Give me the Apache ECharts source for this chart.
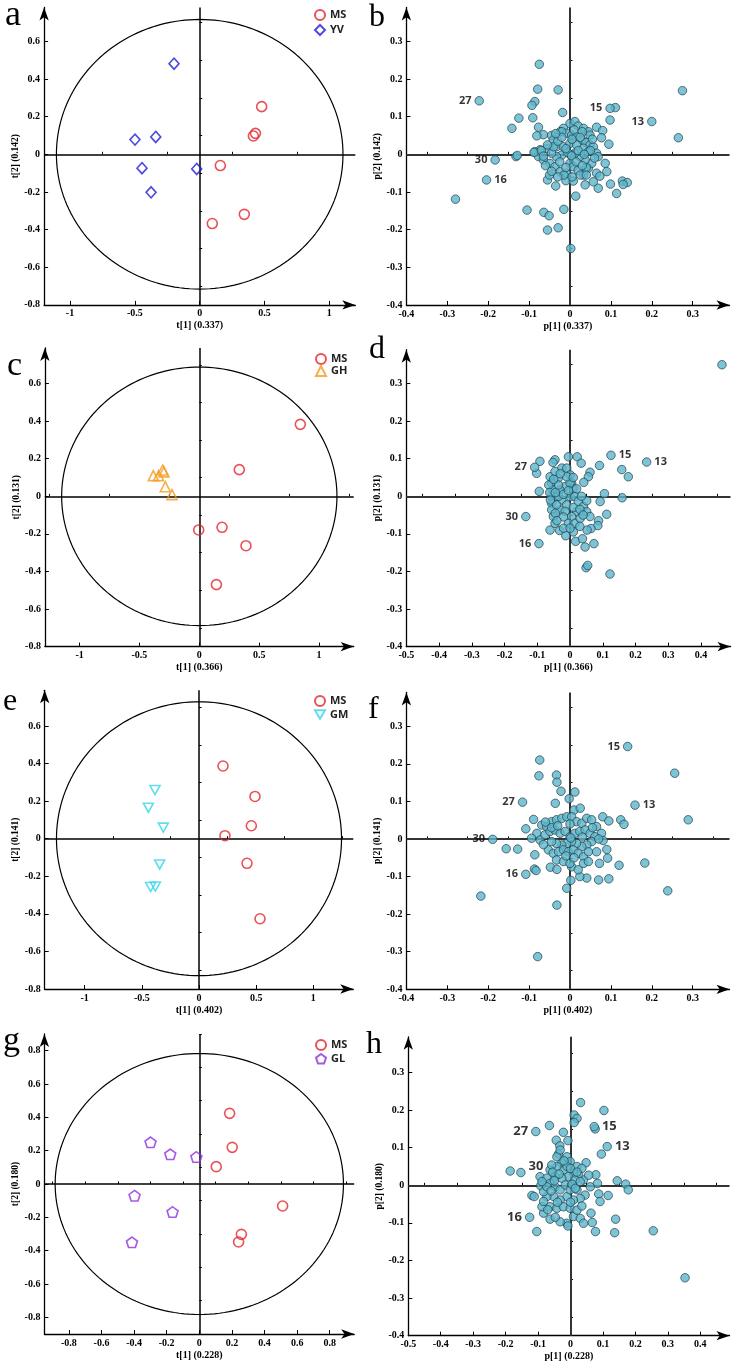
<!DOCTYPE html>
<html><head><meta charset="utf-8">
<script src="https://cdn.jsdelivr.net/npm/echarts@6/dist/echarts.min.js"></script>
<style>html,body{margin:0;padding:0;background:#fff}#c{width:740px;height:1366px}</style>
</head><body><div id="c"></div>
<script>
// ---------- DATA ----------
const aMS = [[0.478,0.253],[0.430,0.111],[0.414,0.097],[0.159,-0.060],[0.344,-0.319],[0.097,-0.368]];
const aYV = [[-0.198,0.481],[-0.499,0.078],[-0.339,0.092],[-0.445,-0.074],[-0.375,-0.202],[-0.023,-0.078]];
const cMS = [[0.844,0.383],[0.334,0.142],[-0.005,-0.179],[0.190,-0.165],[0.390,-0.263],[0.143,-0.470]];
const cGH = [[-0.384,0.110],[-0.340,0.110],[-0.306,0.140],[-0.295,0.130],[-0.284,0.051],[-0.228,0.009]];
const eMS = [[0.210,0.387],[0.490,0.225],[0.458,0.069],[0.227,0.016],[0.420,-0.131],[0.534,-0.426]];
const eGM = [[-0.385,0.259],[-0.443,0.165],[-0.312,0.059],[-0.344,-0.137],[-0.423,-0.257],[-0.382,-0.255]];
const gMS = [[0.186,0.424],[0.202,0.220],[0.104,0.104],[0.511,-0.132],[0.258,-0.302],[0.241,-0.348]];
const gGL = [[-0.299,0.250],[-0.178,0.178],[-0.018,0.162],[-0.397,-0.070],[-0.164,-0.168],[-0.413,-0.350]];

// Hotelling T2 ellipse radii [t1, t2]
const aEllipse = [1.105, 0.716];
const cEllipse = [1.150, 0.688];
const eEllipse = [1.247, 0.729];
const gEllipse = [0.884, 0.783];

const bLoad = [[-0.075,0.239],[-0.079,0.173],[-0.029,0.171],[0.275,0.169],[-0.086,0.140],[-0.093,0.130],[0.111,0.124],[-0.018,0.111],[-0.125,0.096],[-0.091,0.097],[0.098,0.091],[-0.142,0.069],[-0.077,0.072],[0.065,0.072],[0.080,0.063],[-0.065,0.052],[-0.081,0.049],[-0.045,0.050],[0.265,0.044],[0.077,0.044],[0.095,0.027],[-0.132,-0.006],[-0.129,-0.003],[-0.280,-0.119],[0.086,-0.024],[0.090,-0.046],[0.069,-0.090],[0.099,-0.079],[0.128,-0.071],[0.140,-0.075],[0.130,-0.080],[0.114,-0.104],[0.014,-0.111],[-0.105,-0.148],[-0.064,-0.154],[-0.051,-0.163],[-0.015,-0.146],[-0.055,-0.201],[-0.029,-0.195],[0.002,-0.250],[-0.035,-0.084],[-0.055,-0.068],[-0.010,-0.070],[0.008,-0.071],[0.037,-0.081],[0.057,-0.073],[0.065,-0.050],[0.073,-0.058],
[0.000,0.082],[0.012,0.087],[0.020,0.075],[0.033,0.069],[0.045,0.060],[0.049,0.051],[-0.016,0.069],[-0.024,0.060],[-0.008,0.056],[0.004,0.051],[0.016,0.047],[0.029,0.038],[0.039,0.031],[0.049,0.025],[0.057,0.020],[0.065,0.003],[0.069,-0.006],[-0.041,0.038],[-0.033,0.020],[-0.057,0.016],[-0.073,0.012],[-0.086,0.007],[-0.077,-0.006],[-0.065,-0.015],[-0.049,-0.024],[-0.037,-0.033],[-0.024,-0.046],[-0.008,-0.050],[0.000,-0.024],[0.008,-0.033],[0.020,-0.042],[0.033,-0.055],[0.045,-0.037],[0.053,-0.024],[0.037,-0.015],[0.024,-0.006],[0.012,0.003],[-0.008,0.007],[-0.020,-0.002],[-0.033,-0.006],[-0.045,0.003],[-0.016,0.020],[0.000,0.029],[0.016,0.025],[0.033,0.016],[0.045,0.007],[-0.088,0.005],[-0.070,0.010],[-0.060,-0.030],[-0.050,-0.055],[-0.045,-0.045],[-0.040,0.020],[-0.030,0.035],[-0.020,0.060],[0.010,0.065],[0.030,0.060],[0.050,0.010],[0.060,-0.010],[0.040,-0.035],[0.025,-0.055],[0.005,-0.060],[-0.015,-0.055],[0.000,0.000],[-0.005,0.004],[0.004,-0.004],
[-0.020,0.045],[0.005,0.040],[0.025,0.045],[-0.010,0.015],[0.020,0.010],[0.035,0.000],[-0.025,-0.020],[-0.010,-0.035],[0.015,-0.020],[0.030,-0.030],[-0.055,0.025],[-0.065,-0.005],[0.055,0.040],[-0.035,0.055],[0.040,-0.055],[-0.030,-0.060]];
const bLab = [['27',-0.222,0.142],['15',0.098,0.122],['13',0.200,0.087],['30',-0.183,-0.015],['16',-0.204,-0.068]];

const dLoad = [[0.464,0.350],[0.158,0.071],[0.178,0.052],[0.090,0.082],[0.061,0.064],[0.056,0.052],[0.042,0.037],[-0.102,0.061],[-0.092,0.093],[-0.046,0.097],[-0.052,0.090],[-0.005,0.105],[0.022,0.105],[0.034,0.088],[-0.094,0.013],[0.105,0.007],[0.159,-0.004],[0.092,-0.014],[0.112,-0.048],[-0.061,-0.090],[-0.032,-0.091],[-0.013,-0.105],[0.017,-0.120],[0.038,-0.113],[0.046,-0.135],[0.073,-0.126],[0.087,-0.065],[0.085,-0.078],[0.064,-0.086],[0.052,-0.090],[0.049,-0.190],[0.054,-0.184],[0.122,-0.207],
[-0.061,0.052],[-0.056,0.035],[-0.053,0.017],[-0.056,-0.001],[-0.056,-0.019],[-0.056,-0.036],[-0.051,-0.054],[-0.046,-0.072],[-0.036,0.048],[-0.025,0.075],[-0.010,0.075],[0.000,0.057],[0.005,0.035],[0.010,0.021],[-0.015,0.026],[-0.031,0.017],[-0.041,-0.001],[-0.025,-0.010],[-0.010,-0.023],[0.000,-0.001],[0.015,-0.001],[0.025,-0.014],[0.041,-0.027],[0.051,-0.012],[0.020,-0.041],[0.005,-0.054],[-0.005,-0.072],[-0.020,-0.085],[0.015,-0.072],[0.031,-0.059],[0.051,-0.041],[0.061,-0.054],[-0.046,0.066],[0.000,0.035],[-0.010,0.052],[-0.031,-0.036],[-0.041,-0.023],[-0.065,0.030],[-0.062,0.010],[-0.060,-0.010],[-0.035,0.000],[-0.020,0.005],[-0.015,-0.040],[0.030,-0.080],[0.010,-0.095],[-0.030,0.060],[0.010,0.050],[0.020,0.020],
[-0.045,0.010],[-0.045,-0.045],[-0.035,0.030],[-0.020,-0.055],[-0.005,0.015],[0.010,-0.030],[0.030,-0.035],[0.035,0.000],[-0.050,0.045],[-0.040,-0.065],[0.000,-0.085],[0.040,-0.050]];
const dLab = [['15',0.125,0.109],['13',0.234,0.091],['27',-0.108,0.077],['30',-0.135,-0.054],['16',-0.095,-0.126]];

const fLoad = [[0.256,0.175],[0.289,0.051],[0.124,0.051],[0.132,0.039],[0.080,0.059],[0.095,0.048],[-0.074,0.210],[-0.076,0.168],[-0.033,0.170],[-0.032,0.151],[-0.022,0.127],[0.012,0.125],[-0.002,0.107],[-0.036,0.095],[0.010,0.077],[0.025,0.082],[-0.089,0.052],[-0.108,0.027],[-0.156,-0.026],[-0.128,-0.027],[-0.086,-0.042],[-0.087,-0.080],[-0.083,-0.084],[-0.218,-0.152],[-0.032,-0.176],[-0.079,-0.313],[-0.008,-0.131],[0.002,-0.110],[0.070,-0.109],[0.095,-0.106],[0.041,-0.104],[0.024,-0.100],[0.120,-0.070],[0.072,-0.065],[0.092,-0.051],[0.090,-0.028],[0.183,-0.064],[0.239,-0.138],[-0.048,-0.075],[-0.032,-0.081],[0.004,-0.074],[0.020,-0.082],
[-0.069,0.037],[-0.057,0.033],[-0.045,0.046],[-0.033,0.051],[-0.020,0.055],[-0.008,0.059],[0.004,0.059],[0.016,0.046],[0.029,0.042],[0.041,0.055],[0.053,0.051],[0.065,0.033],[0.077,0.015],[0.081,-0.004],[-0.081,0.015],[-0.094,0.002],[-0.073,-0.003],[-0.061,0.011],[-0.049,0.020],[-0.037,0.024],[-0.024,0.015],[-0.012,0.020],[0.000,0.006],[0.012,0.015],[0.024,0.020],[0.037,0.024],[0.049,0.015],[0.061,0.006],[0.053,-0.007],[0.041,-0.016],[0.029,-0.020],[0.016,-0.012],[0.004,-0.007],[-0.008,-0.012],[-0.020,-0.016],[-0.033,-0.012],[-0.045,-0.007],[-0.053,-0.029],[-0.041,-0.038],[-0.028,-0.034],[-0.016,-0.029],[-0.004,-0.034],[0.008,-0.029],[0.020,-0.038],[0.033,-0.047],[0.045,-0.034],[0.065,-0.034],[-0.033,-0.056],[-0.016,-0.060],[0.000,-0.065],[0.033,-0.065],[0.045,-0.060],[0.002,0.003],
[-0.060,0.045],[-0.045,0.030],[0.000,0.040],[0.030,0.005],[-0.010,-0.045],[0.010,-0.050],[0.055,0.030],[-0.065,-0.015],[0.070,0.000],[-0.030,0.035]];
const fLab = [['15',0.141,0.246],['13',0.159,0.090],['27',-0.116,0.098],['30',-0.189,-0.001],['16',-0.108,-0.094]];

const hLoad = [[0.353,-0.246],[0.255,-0.121],[0.031,0.220],[0.103,0.199],[0.011,0.187],[0.020,0.178],[0.011,0.167],[-0.065,0.159],[0.076,0.150],[-0.022,0.141],[-0.044,0.120],[-0.008,0.119],[-0.033,0.105],[0.095,0.083],[-0.037,0.083],[-0.186,0.038],[0.048,0.060],[0.078,0.028],[0.083,0.005],[0.144,0.012],[0.170,0.003],[0.178,-0.012],[0.116,-0.027],[0.087,-0.023],[0.091,-0.043],[0.063,-0.074],[0.067,-0.099],[0.077,-0.123],[0.139,-0.090],[0.136,-0.126],[-0.104,-0.123],[-0.119,-0.027],[-0.112,-0.030],[-0.092,-0.001],[-0.094,0.023],[-0.073,0.019],[-0.063,0.041],[-0.011,-0.101],[-0.008,-0.108],[-0.032,-0.097],[-0.063,-0.090],[-0.047,-0.085],[0.009,-0.083],[0.030,-0.088],[0.040,-0.101],[-0.083,-0.074],[-0.088,-0.057],
[-0.042,0.076],[-0.027,0.059],[-0.011,0.076],[-0.001,0.063],[-0.022,0.041],[-0.042,0.050],[-0.058,0.054],[0.020,0.050],[0.035,0.045],[0.025,0.027],[0.009,0.032],[-0.006,0.023],[-0.027,0.019],[-0.047,0.023],[-0.063,0.005],[-0.047,-0.004],[-0.032,-0.012],[-0.016,0.001],[0.004,0.001],[0.020,-0.012],[0.040,0.014],[0.056,0.027],[0.061,-0.004],[0.045,-0.026],[0.030,-0.035],[0.009,-0.039],[-0.011,-0.030],[-0.032,-0.039],[-0.052,-0.030],[-0.073,-0.030],[-0.083,-0.043],[-0.063,-0.057],[-0.042,-0.061],[-0.022,-0.057],[-0.001,-0.061],[0.020,-0.066],[-0.083,-0.017],[-0.073,-0.004],[-0.088,0.010],[-0.001,-0.012],[0.014,0.014],[-0.011,0.050],[-0.032,0.094],[0.005,0.003],[0.015,-0.008],
[-0.055,0.035],[-0.035,0.030],[-0.020,0.065],[0.000,0.045],[0.030,0.010],[-0.060,-0.015],[-0.040,-0.045],[0.000,-0.045],[0.035,-0.055],[-0.070,-0.065],[0.020,0.035],[-0.050,0.012]];
const hLab = [['27',-0.107,0.143],['15',0.073,0.156],['13',0.113,0.103],['30',-0.153,0.034],['16',-0.126,-0.085]];

// tick labels
const xTicksScore = [-1,-0.5,0,0.5,1];
const xTicksG = [-0.8,-0.6,-0.4,-0.2,0,0.2,0.4,0.6,0.8];
const yTicksScore = [-0.8,-0.6,-0.4,-0.2,0,0.2,0.4,0.6];
const yTicksG = [-0.8,-0.6,-0.4,-0.2,0,0.2,0.4,0.6,0.8];
const xTicksLoadB = [-0.4,-0.3,-0.2,-0.1,0,0.1,0.2,0.3];
const xTicksLoadD = [-0.5,-0.4,-0.3,-0.2,-0.1,0,0.1,0.2,0.3,0.4];
const yTicksLoad = [-0.4,-0.3,-0.2,-0.1,0,0.1,0.2,0.3];

// ---------- STYLE / LAYOUT ----------
const SERIF = 'Liberation Serif';
const SANS = 'Open Sans';
const groupStyle = {
  MS:{symbol:'circle', color:'#e4262c', size:10},
  YV:{symbol:'diamond', color:'#1f1fd2', size:[10,11]},
  GH:{symbol:'triangle', color:'#f29b1f', size:10},
  GM:{symbol:'path://M0 0 L100 0 L50 86 Z', color:'#3ad6ea', size:[10,9]},
  GL:{symbol:'path://M50 0 L97.55 34.55 L79.39 90.45 L20.61 90.45 L2.45 34.55 Z', color:'#8e2fe0', size:[11,10.5]}
};
const labelPos = {
  b:{'27':'left','15':'left','13':'left','30':'left','16':'right'},
  d:{'15':'right','13':'right','27':'left','30':'left','16':'left'},
  f:{'15':'left','13':'right','27':'left','30':'left','16':'left'},
  h:{'27':'left','15':'right','13':'right','30':'right','16':'left'}
};

const specs = [
  {id:'a', kind:'score', L:44.1, R:355.3, T:7.4, B:304.9, x:[-1.2,1.2], y:[-0.8,0.78], xt:xTicksScore, xm:0.25, yt:yTicksScore, ym:0.1,
   xName:'t[1] (0.337)', yName:'t[2] (0.142)', groups:[['MS',aMS],['YV',aYV]], ell:aEllipse, leg:{left:314, top:9, gap:3},
   letter:{t:'a', x:5, y:27, s:36}},
  {id:'b', kind:'load', L:406.4, R:729.5, T:7.4, B:305, x:[-0.4,0.39], y:[-0.4,0.39], xt:xTicksLoadB, xm:0.05, yt:yTicksLoad, ym:0.05,
   xName:'p[1] (0.337)', yName:'p[2] (0.142)', pts:bLoad, lab:bLab, fs:11, letter:{t:'b', x:369, y:28, s:32}},
  {id:'c', kind:'score', L:44.9, R:353.7, T:347.9, B:646.6, x:[-1.29,1.29], y:[-0.8,0.79], xt:xTicksScore, xm:0.25, yt:yTicksScore, ym:0.1,
   xName:'t[1] (0.366)', yName:'t[2] (0.131)', groups:[['MS',cMS],['GH',cGH]], ell:cEllipse, leg:{left:315, top:353, gap:0},
   letter:{t:'c', x:7, y:377, s:34}},
  {id:'d', kind:'load', L:406.3, R:730.5, T:349.7, B:646.6, x:[-0.5,0.49], y:[-0.4,0.39], xt:xTicksLoadD, xm:0.05, yt:yTicksLoad, ym:0.05,
   xName:'p[1] (0.366)', yName:'p[2] (0.131)', pts:dLoad, lab:dLab, fs:11, letter:{t:'d', x:369, y:360, s:32}},
  {id:'e', kind:'score', L:44.7, R:353.3, T:690.3, B:989, x:[-1.35,1.35], y:[-0.8,0.79], xt:xTicksScore, xm:0.25, yt:yTicksScore, ym:0.1,
   xName:'t[1] (0.402)', yName:'t[2] (0.141)', groups:[['MS',eMS],['GM',eGM]], ell:eEllipse, leg:{left:314, top:695, gap:2},
   letter:{t:'e', x:3, y:712, s:32}},
  {id:'f', kind:'load', L:406.4, R:729.5, T:692.4, B:989.3, x:[-0.4,0.39], y:[-0.4,0.39], xt:xTicksLoadB, xm:0.05, yt:yTicksLoad, ym:0.05,
   xName:'p[1] (0.402)', yName:'p[2] (0.141)', pts:fLoad, lab:fLab, fs:11, letter:{t:'f', x:368, y:720, s:32}},
  {id:'g', kind:'score', L:44.4, R:354.2, T:1034, B:1334, x:[-0.95,0.95], y:[-0.9,0.9], xt:xTicksG, xm:0.1, yt:yTicksG, ym:0.1,
   xName:'t[1] (0.228)', yName:'t[2] (0.180)', groups:[['MS',gMS],['GL',gGL]], ell:gEllipse, leg:{left:315, top:1039, gap:2},
   letter:{t:'g', x:3, y:1052, s:34}},
  {id:'h', kind:'load', L:408.3, R:729.5, T:1036.8, B:1335.7, x:[-0.5,0.49], y:[-0.4,0.395], xt:xTicksLoadD, xm:0.05, yt:yTicksLoad, ym:0.05,
   xName:'p[1] (0.228)', yName:'p[2] (0.180)', pts:hLoad, lab:hLab, fs:13, letter:{t:'h', x:366, y:1055, s:32}}
];

function minorTicks(range, step, majors){
  const out=[]; const start=Math.ceil(range[0]/step-1e-9);
  for(let k=start; k*step<=range[1]+1e-9; k++){
    const v=Math.round(k*step*1000)/1000;
    if(!majors.some(m=>Math.abs(m-v)<1e-6)) out.push(v);
  }
  return out;
}
function ellipsePts(r){
  const p=[]; for(let k=0;k<=180;k++){const t=k/180*2*Math.PI; p.push([r[0]*Math.cos(t), r[1]*Math.sin(t)]);} return p;
}

const grid=[], xAxis=[], yAxis=[], series=[], legend=[], graphic=[];
const lblStyle = {fontFamily:SERIF, fontWeight:'bold', fontSize:10, color:'#000'};
specs.forEach((s,i)=>{
  const isLoad = s.kind==='load';
  const axCol = '#000';
  grid.push({left:s.L, top:s.T, width:s.R-s.L, height:s.B-s.T, containLabel:false});
  xAxis.push({gridIndex:i, type:'value', min:s.x[0], max:s.x[1], position:'bottom',
    axisLine:{show:true, onZero:false, symbol:['none','arrow'], symbolSize:[7,13], lineStyle:{color:axCol, width:1.3}},
    axisTick:{show:true, inside:true, length:4, customValues:s.xt, lineStyle:{color:axCol, width:1}},
    axisLabel:{show:true, customValues:s.xt, margin:4, ...lblStyle},
    splitLine:{show:false},
    name:s.xName, nameLocation:'middle', nameGap:16, nameTextStyle:{...lblStyle}});
  xAxis.push({gridIndex:i, type:'value', min:s.x[0], max:s.x[1], position:'bottom',
    axisLine:{show:false}, axisLabel:{show:false}, splitLine:{show:false},
    axisTick:{show:true, inside:true, length:2.5, customValues:minorTicks(s.x,s.xm,s.xt), lineStyle:{color:axCol, width:1}}});
  yAxis.push({gridIndex:i, type:'value', min:s.y[0], max:s.y[1], position:'left',
    axisLine:{show:true, onZero:false, symbol:['none','arrow'], symbolSize:[7,13], lineStyle:{color:axCol, width:1.3}},
    axisTick:{show:true, inside:true, length:4, customValues:s.yt, lineStyle:{color:axCol, width:1}},
    axisLabel:{show:true, customValues:s.yt, margin:4, ...lblStyle},
    splitLine:{show:false},
    name:s.yName, nameLocation:'middle', nameGap:isLoad?18:22, nameRotate:90, nameTextStyle:{...lblStyle, fontSize:9.5}});
  yAxis.push({gridIndex:i, type:'value', min:s.y[0], max:s.y[1], position:'left',
    axisLine:{show:false}, axisLabel:{show:false}, splitLine:{show:false},
    axisTick:{show:true, inside:true, length:2.5, customValues:minorTicks(s.y,s.ym,s.yt), lineStyle:{color:axCol, width:1}}});
  const xi=2*i, yi=2*i;
  const zeroCol = isLoad ? '#333' : '#000';
  const zeroW = isLoad ? 2 : 1.5;
  series.push({type:'line', xAxisIndex:xi, yAxisIndex:yi, data:[], silent:true, z:1,
    markLine:{silent:true, symbol:['none','none'], animation:false, label:{show:false},
      lineStyle:{color:zeroCol, width:zeroW, type:'solid'}, data:[{yAxis:0},{xAxis:0}]}});
  if(!isLoad){
    series.push({type:'line', xAxisIndex:xi, yAxisIndex:yi, data:ellipsePts(s.ell), showSymbol:false, silent:true, z:2,
      lineStyle:{color:'#000', width:1.2}});
    s.groups.forEach(([name,data])=>{
      const g=groupStyle[name];
      series.push({type:'scatter', name, xAxisIndex:xi, yAxisIndex:yi, data, symbol:g.symbol, symbolSize:g.size,
        symbolKeepAspect:false, z:5,
        itemStyle:{color:'rgba(255,255,255,0)', borderColor:g.color, borderWidth:1.6}});
    });
    legend.push({data:s.groups.map(g=>g[0]), orient:'vertical', left:s.leg.left, top:s.leg.top, itemWidth:10, itemHeight:10,
      itemGap:s.leg.gap, selectedMode:false, padding:0,
      textStyle:{fontFamily:SANS, fontWeight:'bold', fontSize:11, color:'#222'}});
  } else {
    const ptStyle={color:'#5db6cc', borderColor:'#243f49', borderWidth:0.9};
    series.push({type:'scatter', xAxisIndex:xi, yAxisIndex:yi, data:s.pts, symbol:'circle', symbolSize:8.5, z:5, itemStyle:ptStyle});
    series.push({type:'scatter', xAxisIndex:xi, yAxisIndex:yi, symbol:'circle', symbolSize:8.5, z:6, itemStyle:ptStyle,
      data:s.lab.map(([n,x,y])=>{
        const pos=labelPos[s.id][n];
        const lab={position:pos, distance:3};
        if(s.id==='h' && n==='30') lab.offset=[0,-6];
        return {name:n, value:[x,y], label:lab};
      }),
      label:{show:true, formatter:'{b}', fontFamily:SANS, fontWeight:'bold', fontSize:s.fs, color:'#000'}});
  }
  graphic.push({type:'text', left:s.letter.x, top:s.letter.y - s.letter.s*0.82,
    style:{text:s.letter.t, font:`${s.letter.s}px "${SERIF}"`, fill:'#000'}});
});

const chart = echarts.init(document.getElementById('c'), null, {renderer:'canvas'});
chart.setOption({animation:false, backgroundColor:'#fff', grid, xAxis, yAxis, series, legend, graphic, tooltip:{show:false}});
</script></body></html>
